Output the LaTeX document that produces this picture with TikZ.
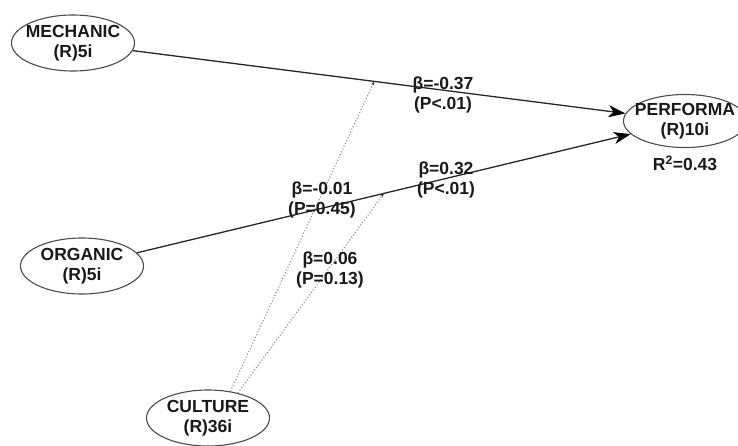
\documentclass[tikz,border=0pt]{standalone}
\usepackage{fontspec}
\setmainfont{Liberation Sans}
\usepackage{tikz}
\usetikzlibrary{arrows.meta, positioning, shapes}

\begin{document}
\begin{tikzpicture}[x=1pt, y=-1pt,
      every node/.style={align=center, font=\fontsize{17.5}{20}\selectfont\bfseries, text=black!90},
      latent/.style={ellipse, draw=black!70, line width=1.1pt, fill=white, minimum width=123pt, minimum height=56pt, inner xsep=-8pt, inner ysep=-4pt},
      effect/.style={draw=black!85, line width=1.3pt, -{Stealth[length=17pt, width=12pt, inset=5pt, black]}},
      moder/.style={draw=black!45, line width=1.1pt, dotted, -{Stealth[length=4pt, width=3pt, black!80]}},
      coef/.style={inner sep=1pt}]
    \useasboundingbox (0,0) rectangle (738,445);
    \node[latent] (mech) at (73,43) {MECHANIC\\(R)5i};
    \node[latent] (org) at (82,266) {ORGANIC\\(R)5i};
    \node[latent] (cult) at (208,418) {CULTURE\\(R)36i};
    \node[latent, minimum height=53pt] (perf) at (685,121) {PERFORMA\\(R)10i};
    \node[coef] (rsq) at (685,163) {R\textsuperscript{2}=0.43};

    \draw[effect] (mech) -- coordinate[pos=0.49] (m1) (perf);
    \draw[effect] (org) -- coordinate[pos=0.5] (m2) (perf);
    \draw[moder] (cult.50) -- (m1);
    \draw[moder] (cult.40) -- (m2);

    \node[coef] (b1) at (443,95) {β=-0.37\\(P<.01)};
    \node[coef] (b2) at (446,180) {β=0.32\\(P<.01)};
    \node[coef] (b3) at (322,200) {β=-0.01\\(P=0.45)};
    \node[coef] (b4) at (330,270) {β=0.06\\(P=0.13)};
\end{tikzpicture}
\end{document}
